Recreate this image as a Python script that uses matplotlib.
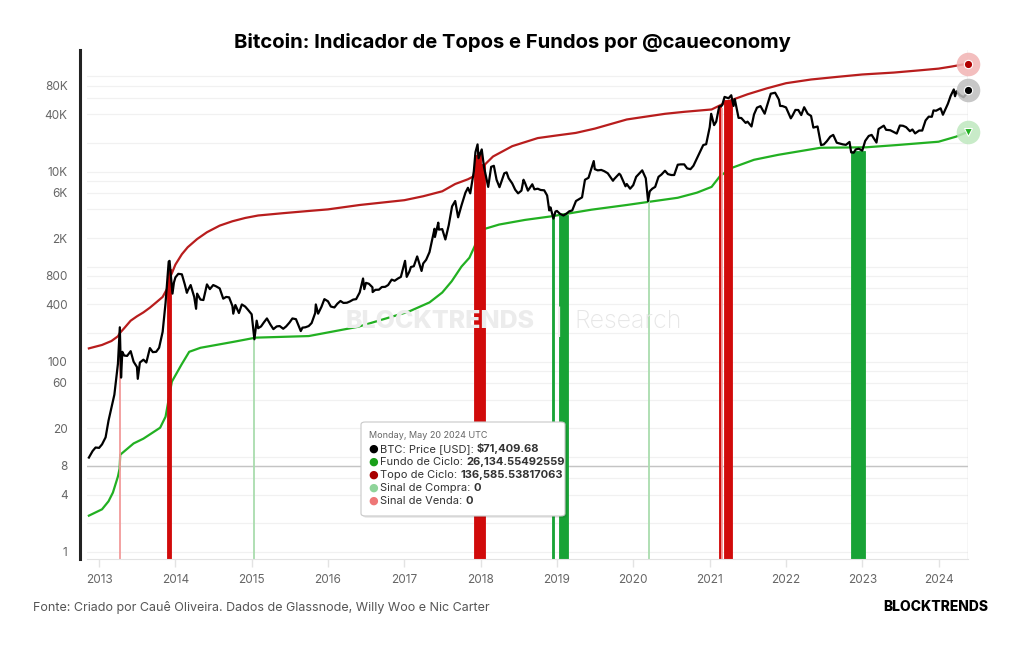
import matplotlib
matplotlib.use('Agg')
import matplotlib.pyplot as plt
import matplotlib.dates as mdates
from matplotlib.patches import FancyBboxPatch
import pandas as pd

plt.rcParams['font.family'] = ['Inter', 'DejaVu Sans']

# BTC: preço (USD)
price_dates = [
    '2012-11-13', '2012-12-01', '2012-12-15', '2013-01-01', '2013-01-15', '2013-02-01', '2013-02-15',
    '2013-03-01', '2013-03-15', '2013-04-01', '2013-04-10', '2013-04-16', '2013-04-22', '2013-05-01',
    '2013-05-15', '2013-06-01', '2013-06-15', '2013-07-01', '2013-07-05', '2013-07-15', '2013-08-01',
    '2013-08-15', '2013-09-01', '2013-09-15', '2013-10-01', '2013-10-15', '2013-11-01', '2013-11-15',
    '2013-11-20', '2013-11-30', '2013-12-04', '2013-12-18', '2013-12-25', '2014-01-01', '2014-01-15',
    '2014-02-01', '2014-02-15', '2014-02-25', '2014-03-01', '2014-03-15', '2014-04-01', '2014-04-10',
    '2014-04-15', '2014-05-01', '2014-05-15', '2014-06-01', '2014-06-15', '2014-07-01', '2014-07-15',
    '2014-08-01', '2014-08-18', '2014-09-01', '2014-09-15', '2014-10-01', '2014-10-05', '2014-10-15',
    '2014-11-01', '2014-11-15', '2014-12-01', '2014-12-15', '2015-01-01', '2015-01-14', '2015-01-25',
    '2015-02-01', '2015-02-15', '2015-03-01', '2015-03-15', '2015-04-01', '2015-04-15', '2015-05-01',
    '2015-05-15', '2015-06-01', '2015-06-15', '2015-07-01', '2015-07-15', '2015-08-01', '2015-08-24',
    '2015-09-01', '2015-09-15', '2015-10-01', '2015-10-15', '2015-11-01', '2015-11-04', '2015-11-15',
    '2015-12-01', '2015-12-15', '2016-01-01', '2016-01-15', '2016-02-01', '2016-02-15', '2016-03-01',
    '2016-03-15', '2016-04-01', '2016-04-15', '2016-05-01', '2016-05-15', '2016-06-01', '2016-06-17',
    '2016-06-23', '2016-07-01', '2016-07-15', '2016-08-01', '2016-08-02', '2016-08-15', '2016-09-01',
    '2016-09-15', '2016-10-01', '2016-10-15', '2016-11-01', '2016-11-15', '2016-12-01', '2016-12-15',
    '2017-01-04', '2017-01-12', '2017-01-25', '2017-02-01', '2017-02-15', '2017-03-03', '2017-03-24',
    '2017-04-01', '2017-04-15', '2017-05-01', '2017-05-25', '2017-05-27', '2017-06-12', '2017-06-15',
    '2017-07-01', '2017-07-16', '2017-08-01', '2017-08-17', '2017-09-01', '2017-09-15', '2017-10-01',
    '2017-10-20', '2017-11-01', '2017-11-12', '2017-11-29', '2017-12-07', '2017-12-17', '2017-12-22',
    '2018-01-06', '2018-01-17', '2018-02-06', '2018-02-20', '2018-03-05', '2018-03-18', '2018-04-01',
    '2018-04-24', '2018-05-05', '2018-05-15', '2018-06-01', '2018-06-15', '2018-06-29', '2018-07-15',
    '2018-07-25', '2018-08-01', '2018-08-15', '2018-09-05', '2018-09-15', '2018-10-01', '2018-10-15',
    '2018-11-01', '2018-11-15', '2018-11-25', '2018-12-01', '2018-12-15', '2018-12-25', '2019-01-01',
    '2019-01-15', '2019-02-01', '2019-02-15', '2019-03-01', '2019-03-15', '2019-04-02', '2019-04-15',
    '2019-05-01', '2019-05-15', '2019-06-01', '2019-06-26', '2019-07-01', '2019-07-15', '2019-08-01',
    '2019-08-15', '2019-09-01', '2019-09-26', '2019-10-01', '2019-10-26', '2019-11-01', '2019-11-25',
    '2019-12-01', '2019-12-17', '2020-01-01', '2020-01-15', '2020-02-13', '2020-02-28', '2020-03-01',
    '2020-03-12', '2020-03-20', '2020-04-01', '2020-04-15', '2020-05-01', '2020-05-15', '2020-06-01',
    '2020-06-15', '2020-07-01', '2020-07-15', '2020-08-01', '2020-08-15', '2020-09-01', '2020-09-15',
    '2020-10-01', '2020-10-15', '2020-11-01', '2020-11-15', '2020-12-01', '2020-12-15', '2021-01-01',
    '2021-01-08', '2021-01-22', '2021-02-01', '2021-02-15', '2021-03-01', '2021-03-13', '2021-04-01',
    '2021-04-14', '2021-04-25', '2021-05-01', '2021-05-19', '2021-06-01', '2021-06-22', '2021-07-01',
    '2021-07-20', '2021-08-01', '2021-08-15', '2021-09-01', '2021-09-21', '2021-10-01', '2021-10-20',
    '2021-11-10', '2021-11-28', '2021-12-04', '2021-12-15', '2022-01-01', '2022-01-24', '2022-02-01',
    '2022-02-15', '2022-03-01', '2022-03-15', '2022-03-29', '2022-04-15', '2022-05-01', '2022-05-12',
    '2022-06-01', '2022-06-18', '2022-07-01', '2022-07-15', '2022-08-01', '2022-08-15', '2022-09-01',
    '2022-09-15', '2022-10-01', '2022-10-15', '2022-11-01', '2022-11-09', '2022-11-21', '2022-12-01',
    '2022-12-15', '2023-01-01', '2023-01-15', '2023-02-01', '2023-02-15', '2023-03-10', '2023-03-20',
    '2023-04-14', '2023-04-25', '2023-05-15', '2023-06-15', '2023-06-30', '2023-07-15', '2023-07-30',
    '2023-08-17', '2023-08-29', '2023-09-11', '2023-09-30', '2023-10-15', '2023-10-31', '2023-11-15',
    '2023-11-30', '2023-12-08', '2023-12-20', '2024-01-11', '2024-01-22', '2024-02-15', '2024-02-28',
    '2024-03-14', '2024-03-20', '2024-03-27', '2024-04-13', '2024-04-30', '2024-05-15', '2024-05-20',
]
price_values = [
    9.8, 11.5, 12.5, 12.4, 13.5, 16, 24,
    33, 45, 95, 230, 68, 127, 116,
    115, 129, 100, 88, 66, 98, 105,
    98, 139, 126, 127, 140, 206, 417,
    580, 1130, 1150, 520, 680, 770, 840,
    830, 650, 530, 560, 640, 480, 360,
    520, 450, 445, 650, 580, 640, 620,
    590, 460, 480, 475, 385, 320, 395,
    325, 400, 380, 350, 315, 172, 270,
    225, 235, 260, 285, 245, 220, 235,
    237, 222, 235, 258, 285, 280, 210,
    228, 230, 237, 255, 325, 400, 320,
    378, 455, 432, 380, 372, 407, 435,
    415, 417, 430, 450, 455, 535, 750,
    580, 675, 660, 606, 540, 570, 572,
    610, 613, 640, 730, 710, 750, 780,
    1150, 780, 890, 990, 1010, 1280, 900,
    1080, 1180, 1420, 2500, 2050, 2900, 2450,
    2480, 1930, 2720, 4300, 4900, 3300, 4400,
    6000, 6750, 5900, 10000, 16000, 19300, 13800,
    17100, 11100, 6900, 11200, 11500, 8200, 6850,
    9600, 9800, 8500, 7500, 6450, 5900, 6300,
    8200, 7600, 6300, 7350, 6500, 6600, 6400,
    6350, 5600, 3900, 4200, 3200, 3800, 3850,
    3600, 3450, 3600, 3820, 3900, 4900, 5100,
    5350, 8200, 8600, 12900, 10600, 10300, 10400,
    10100, 9600, 8000, 8300, 9500, 9200, 7000,
    7400, 6600, 7200, 8800, 10300, 8700, 8500,
    4900, 6200, 6600, 6900, 8800, 9300, 10200,
    9400, 9200, 9200, 11800, 11900, 11900, 10800,
    10600, 11500, 13800, 16000, 19000, 19400, 29300,
    40500, 30800, 33500, 48000, 49500, 61000, 59000,
    63500, 49000, 57800, 36700, 36600, 32500, 33500,
    29800, 39900, 47000, 48800, 40600, 48200, 65900,
    67500, 57200, 49000, 48900, 47300, 36300, 38700,
    44500, 44400, 39300, 47500, 40500, 38500, 29000,
    29800, 19000, 19300, 20800, 23300, 24300, 20100,
    19700, 19300, 19100, 20500, 15900, 15800, 17100,
    17400, 16600, 21000, 23700, 24300, 20200, 28000,
    30400, 27500, 27200, 25100, 30500, 30300, 29300,
    26600, 27700, 25200, 27000, 27000, 34500, 37800,
    37700, 44000, 43600, 46300, 39600, 51800, 62500,
    73100, 62000, 69900, 63500, 60600, 66200, 71409.68,
]

# Topo de Ciclo
top_dates = [
    '2012-11-13', '2013-01-15', '2013-03-01', '2013-04-01', '2013-04-10', '2013-05-01', '2013-06-01',
    '2013-07-01', '2013-08-01', '2013-09-01', '2013-10-01', '2013-11-01', '2013-11-25', '2013-12-10',
    '2014-01-01', '2014-02-01', '2014-03-01', '2014-04-15', '2014-06-01', '2014-08-01', '2014-10-01',
    '2014-12-01', '2015-02-01', '2015-06-01', '2015-10-01', '2016-01-01', '2016-06-01', '2017-01-01',
    '2017-04-01', '2017-07-01', '2017-09-01', '2017-11-01', '2017-12-15', '2018-01-15', '2018-03-01',
    '2018-06-01', '2018-10-01', '2019-01-01', '2019-04-01', '2019-07-01', '2019-12-01', '2020-02-01',
    '2020-06-01', '2020-09-01', '2021-01-10', '2021-04-01', '2021-07-01', '2021-10-01', '2022-01-01',
    '2022-05-01', '2022-09-01', '2023-01-01', '2023-06-01', '2023-10-01', '2024-01-01', '2024-03-01',
    '2024-05-20',
]
top_values = [
    138, 150, 165, 185, 200, 225, 270,
    300, 330, 370, 420, 480, 600, 800,
    1050, 1350, 1600, 1950, 2300, 2700, 3000,
    3250, 3450, 3650, 3850, 4000, 4450, 5000,
    5500, 6200, 7400, 8300, 9300, 11500, 14400,
    18500, 22500, 24000, 25500, 28300, 35300, 37000,
    40500, 42500, 45000, 55000, 65000, 75000, 85000,
    93000, 99000, 105000, 110000, 116000, 121000, 127000,
    136585.54,
]

# Fundo de Ciclo
bottom_dates = [
    '2012-11-13', '2013-01-15', '2013-02-15', '2013-03-08', '2013-04-01', '2013-04-09', '2013-04-12',
    '2013-06-15', '2013-08-01', '2013-10-20', '2013-11-15', '2013-12-15', '2014-01-30', '2014-03-08',
    '2014-05-01', '2014-10-08', '2015-01-20', '2015-10-01', '2016-05-25', '2017-01-20', '2017-05-01',
    '2017-07-01', '2017-08-15', '2017-10-01', '2017-11-08', '2017-12-01', '2018-01-08', '2018-03-30',
    '2018-08-01', '2018-12-05', '2019-06-15', '2019-12-01', '2020-03-15', '2020-08-01', '2020-11-01',
    '2021-01-10', '2021-02-20', '2021-04-20', '2021-08-01', '2021-11-25', '2022-06-15', '2023-01-20',
    '2023-06-15', '2024-01-01', '2024-03-25', '2024-05-20',
]
bottom_values = [
    2.4, 2.8, 3.4, 4.2, 6.2, 7.5, 10.5,
    13.8, 15.5, 20.2, 26.4, 61.6, 93, 127,
    140, 162, 179, 186, 233, 335, 420,
    534, 700, 1000, 1240, 1600, 2450, 2770,
    3100, 3380, 3970, 4450, 4800, 5300, 6000,
    6900, 9000, 11000, 13300, 15000, 17800, 18000,
    19000, 20600, 23300, 26134.55,
]

# Sinais de venda / compra (início, fim, topo da coluna)
sell_start = ['2013-04-09', '2013-11-22', '2017-12-01', '2017-12-15', '2018-01-01',
              '2021-02-16', '2021-02-27', '2021-03-08']
sell_end = ['2013-04-11', '2013-12-09', '2017-12-15', '2018-01-01', '2018-01-24',
            '2021-02-24', '2021-03-02', '2021-04-20']
sell_top = [230, 950, 15000, 16000, 12000, 50000, 47000, 56000]

buy_start = ['2015-01-13', '2018-12-07', '2018-12-14', '2019-01-10', '2020-03-15', '2022-11-09']
buy_end = ['2015-01-15', '2018-12-11', '2018-12-20', '2019-02-22', '2020-03-17', '2023-01-14']
buy_top = [175, 3400, 3300, 3500, 5000, 16500]

year_ticks = list(range(2013, 2025))
y_ticks = [1, 4, 8, 20, 60, 100, 400, 800, 2000, 6000, 10000, 40000, 80000]
y_labels = ['1', '4', '8', '20', '60', '100', '400', '800', '2K', '6K', '10K', '40K', '80K']
grid_values = [1, 2, 4, 6, 8, 10, 20, 40, 60, 80, 100, 200, 400, 600, 800, 1000, 2000,
               4000, 6000, 8000, 10000, 20000, 40000, 60000, 80000, 100000]

RED_LINE = '#b81d1d'
GREEN_LINE = '#22b022'
SELL = '#d10a0a'
BUY = '#18a336'
SELL_LIGHT = '#f29a9a'
BUY_LIGHT = '#a9dcae'

fig = plt.figure(figsize=(10.24, 6.45), dpi=100)
ax = fig.add_axes([87 / 1024, 1 - 559 / 645, (968 - 87) / 1024, (559 - 50) / 645])

px = mdates.date2num(pd.to_datetime(price_dates))
tx = mdates.date2num(pd.to_datetime(top_dates))
bx = mdates.date2num(pd.to_datetime(bottom_dates))

ymin, ymax = 0.84, 190000
ax.set_yscale('log')
ax.set_ylim(ymin, ymax)
x_left = mdates.date2num(pd.Timestamp('2012-11-04'))
x_right = mdates.date2num(pd.Timestamp('2024-05-21'))
ax.set_xlim(x_left, x_right)

for g in grid_values:
    ax.axhline(g, color='#f1f1f1', lw=0.9, zorder=0)
ax.axhline(8, color='#c4c4c4', lw=1.0, zorder=0.5)

# colunas de sinal
def draw_signals(starts, ends, tops, solid, light):
    s = mdates.date2num(pd.to_datetime(starts))
    e = mdates.date2num(pd.to_datetime(ends))
    for a, b, t in zip(s, e, tops):
        if b - a <= 3:
            ax.vlines((a + b) / 2, ymin, t, color=light, lw=1.3, zorder=2)
        else:
            ax.bar(a, t - ymin, bottom=ymin, width=b - a, align='edge', color=solid,
                   edgecolor=solid, linewidth=0.6, zorder=2)

ax.plot(bx, bottom_values, color=GREEN_LINE, lw=1.6, zorder=1.5)
ax.plot(tx, top_values, color=RED_LINE, lw=1.6, zorder=1.5)
draw_signals(sell_start, sell_end, sell_top, SELL, SELL_LIGHT)
draw_signals(buy_start, buy_end, buy_top, BUY, BUY_LIGHT)
ax.plot(px, price_values, color='black', lw=1.6, zorder=3)

# crosshair e marcadores finais
ax.axvline(px[-1], color='#d6d6d6', lw=1, zorder=1)
for val, col, halo, mk in [(top_values[-1], '#b00000', '#f2b3b3', 'o'),
                           (price_values[-1], 'black', '#bdbdbd', 'o'),
                           (bottom_values[-1], '#22b022', '#bfe8bf', 'v')]:
    ax.plot(px[-1], val, 'o', ms=17, color=halo, alpha=0.85, zorder=4, clip_on=False, mec='none')
    ax.plot(px[-1], val, mk, ms=6, color=col, zorder=5, clip_on=False, mec='white', mew=0.8)

# eixos
ax.set_yticks(y_ticks)
ax.set_yticklabels(y_labels)
ax.yaxis.set_minor_locator(matplotlib.ticker.NullLocator())
ax.set_xticks(mdates.date2num([pd.Timestamp(f'{y}-01-01') for y in year_ticks]))
ax.set_xticklabels([str(y) for y in year_ticks])
ax.tick_params(axis='y', length=0, pad=9, labelsize=8.5, labelcolor='#666666')
ax.tick_params(axis='x', length=6, width=1, color='#e3e3e3', pad=5, labelsize=8.5,
               labelcolor='#666666')
for sp in ['top', 'right']:
    ax.spines[sp].set_visible(False)
ax.spines['bottom'].set_color('#e3e3e3')
ax.spines['left'].set_color('#222222')
ax.spines['left'].set_linewidth(2.2)
ax.spines['left'].set_position(('outward', 5))

# marca d'água
fig.text(440 / 1024, 1 - 322 / 645, 'BLOCKTRENDS', ha='center', va='center', fontsize=18,
         fontweight='heavy', color='#ececec', zorder=0)
fig.text(559 / 1024, 1 - 322 / 645, '|', ha='center', va='center', fontsize=18,
         color='#ececec', zorder=0)
fig.text(628 / 1024, 1 - 322 / 645, 'Research', ha='center', va='center', fontsize=18,
         fontweight='light', color='#e6e6e6', zorder=0)

# títulos e rodapé
fig.text(0.5, 1 - 42 / 645, 'Bitcoin: Indicador de Topos e Fundos por @caueconomy',
         ha='center', va='center', fontsize=14.6, fontweight='bold', color='black')
fig.text(33 / 1024, 1 - 607 / 645,
         'Fonte: Criado por Cauê Oliveira. Dados de Glassnode, Willy Woo e Nic Carter',
         ha='left', va='center', fontsize=9, color='#555555')
fig.text(988 / 1024, 1 - 607 / 645, 'BLOCKTRENDS', ha='right', va='center', fontsize=10,
         fontweight='heavy', color='black')

# tooltip
x0, y0, x1, y1 = 361, 422, 565, 516
shadow = FancyBboxPatch((x0 / 1024 + 0.002, 1 - (y1 + 2) / 645), (x1 - x0) / 1024, (y1 - y0) / 645,
                        boxstyle='round,pad=0,rounding_size=0.004', transform=fig.transFigure,
                        facecolor='#000000', alpha=0.08, edgecolor='none', zorder=9)
box = FancyBboxPatch((x0 / 1024, 1 - y1 / 645), (x1 - x0) / 1024, (y1 - y0) / 645,
                     boxstyle='round,pad=0,rounding_size=0.004', transform=fig.transFigure,
                     facecolor='white', edgecolor='#c8c8c8', lw=0.8, zorder=10)
fig.patches.extend([shadow, box])
fig.text(369 / 1024, 1 - 436 / 645, 'Monday, May 20 2024 UTC', ha='left', va='center',
         fontsize=6.5, color='#666666', zorder=11)
tip_items = [
    ('black', 'BTC: Price [USD]: ', '$71,409.68'),
    ('#1aa01a', 'Fundo de Ciclo: ', '26,134.55492559'),
    ('#a80000', 'Topo de Ciclo: ', '136,585.53817063'),
    ('#8fd49a', 'Sinal de Compra: ', '0'),
    ('#ee7777', 'Sinal de Venda: ', '0'),
]
for i, (c, lab, val) in enumerate(tip_items):
    yy = 1 - (449 + 13 * i) / 645
    fig.text(373 / 1024, yy, '\u25cf', ha='center', va='center', fontsize=8, color=c,
             family='DejaVu Sans', zorder=11)
    t = fig.text(380 / 1024, yy, lab, ha='left', va='center', fontsize=8, color='#333333', zorder=11)
    fig.canvas.draw()
    bb = t.get_window_extent()
    fig.text(bb.x1 / 1024, yy, val, ha='left', va='center', fontsize=8, fontweight='bold',
             color='#333333', zorder=11)

fig.savefig('out.png', dpi=100)
